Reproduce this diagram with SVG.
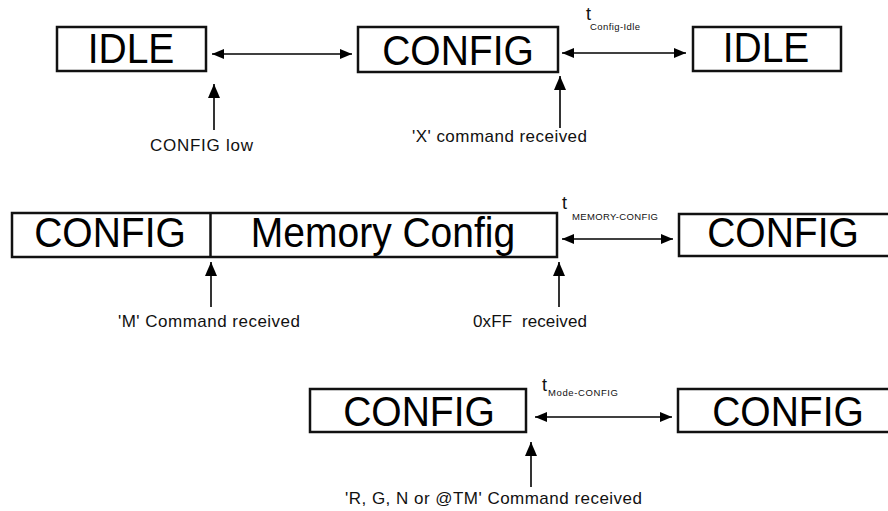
<svg xmlns="http://www.w3.org/2000/svg" width="888" height="511" viewBox="0 0 888 511">
<style>
.box{fill:#fff;stroke:#111;stroke-width:2.5}
.big{font-family:"Liberation Sans",Arial,sans-serif;font-size:39px;fill:#000;text-anchor:middle}
.lbl{font-family:"Liberation Sans",Arial,sans-serif;font-size:17px;fill:#111;white-space:pre}
.t{font-family:"Liberation Sans",Arial,sans-serif;font-size:18px;fill:#111}
.sub{font-family:"Liberation Sans",Arial,sans-serif;font-size:9.5px;fill:#111}
.con{stroke:#000;stroke-width:1.6;fill:none}
</style>
<defs>
<marker id="ah" viewBox="0 0 12 10" refX="12" refY="5" markerWidth="12" markerHeight="10" markerUnits="userSpaceOnUse" orient="auto-start-reverse">
<path d="M0,0 L12,5 L0,10 Z" fill="#000"/>
</marker>
<marker id="up" viewBox="0 0 14 12" refX="14" refY="6" markerWidth="14" markerHeight="12" markerUnits="userSpaceOnUse" orient="auto">
<path d="M0,0 L14,6 L0,12 Z" fill="#000"/>
</marker>
</defs>

<g id="idle1"><rect class="box" x="57" y="27" width="149" height="44"/><text class="big" transform="translate(131,63) scale(1,1.08)">IDLE</text></g>
<g id="config1"><rect class="box" x="358" y="27" width="200" height="45"/><text class="big" transform="translate(458,65) scale(1,1.08)">CONFIG</text></g>
<g id="idle2"><rect class="box" x="693" y="27" width="148" height="44"/><text class="big" transform="translate(766,62) scale(1,1.08)">IDLE</text></g>

<g id="config-memory"><rect class="box" x="12" y="213" width="545" height="44"/><line x1="210.5" y1="213" x2="210.5" y2="257" stroke="#111" stroke-width="2.5"/><text class="big" transform="translate(110,247) scale(1,1.08)">CONFIG</text><text class="big" transform="translate(383,247) scale(1,1.08)">Memory Config</text></g>
<g id="config2"><rect class="box" x="679" y="214" width="240" height="42"/><text class="big" transform="translate(783,247) scale(1,1.08)">CONFIG</text></g>

<g id="config3"><rect class="box" x="310" y="389" width="216" height="43"/><text class="big" transform="translate(419,426) scale(1,1.08)">CONFIG</text></g>
<g id="config4"><rect class="box" x="678" y="389" width="240" height="43"/><text class="big" transform="translate(788,426) scale(1,1.08)">CONFIG</text></g>

<g id="connectors">
<line class="con" x1="212" y1="54" x2="352" y2="54" marker-start="url(#ah)" marker-end="url(#ah)"/>
<line class="con" x1="562" y1="53" x2="686" y2="53" marker-start="url(#ah)" marker-end="url(#ah)"/>
<line class="con" x1="562" y1="239" x2="673" y2="239" marker-start="url(#ah)" marker-end="url(#ah)"/>
<line class="con" x1="535" y1="417" x2="672" y2="417" marker-start="url(#ah)" marker-end="url(#ah)"/>
<line class="con" x1="214" y1="130" x2="214" y2="84" marker-end="url(#up)"/>
<line class="con" x1="560" y1="128" x2="560" y2="76" marker-end="url(#up)"/>
<line class="con" x1="211" y1="307" x2="211" y2="262" marker-end="url(#up)"/>
<line class="con" x1="559" y1="307" x2="559" y2="262" marker-end="url(#up)"/>
<line class="con" x1="531" y1="487" x2="531" y2="442" marker-end="url(#up)"/>
</g>

<g id="labels">
<text class="lbl" x="150" y="151" textLength="103">CONFIG low</text>
<text class="lbl" x="412" y="142" textLength="175">'X' command received</text>
<text class="lbl" x="118" y="327" textLength="182">'M' Command received</text>
<text class="lbl" x="473" y="327" textLength="114">0xFF  received</text>
<text class="lbl" x="345" y="504" textLength="297">'R, G, N or @TM' Command received</text>
<text class="t" x="586" y="20">t</text><text class="sub" x="590" y="30" textLength="50">Config-Idle</text>
<text class="t" x="562" y="209">t</text><text class="sub" x="572" y="220" textLength="86">MEMORY-CONFIG</text>
<text class="t" x="542" y="391">t</text><text class="sub" x="548" y="396" textLength="70">Mode-CONFIG</text>
</g>
</svg>
